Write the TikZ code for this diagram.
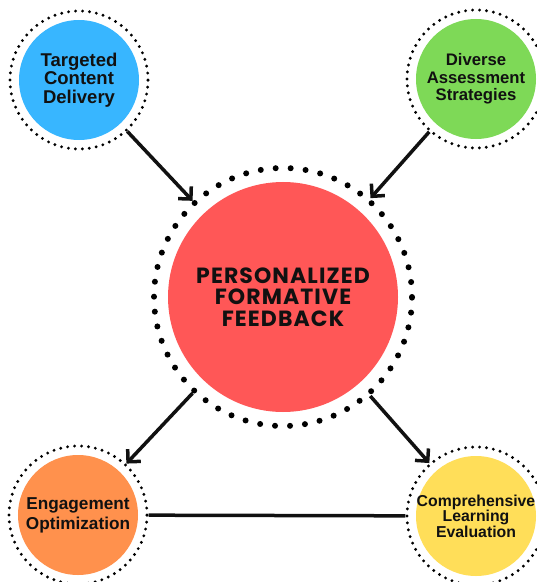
\documentclass[tikz,border=0pt]{standalone}
\usepackage{fontspec}
\setmainfont{Liberation Sans}
\newfontfamily\titlefont{Poppins}[LetterSpace=5]
\usetikzlibrary{arrows.meta}

\definecolor{tcdblue}{HTML}{38B6FF}
\definecolor{dasgreen}{HTML}{7ED957}
\definecolor{pffred}{HTML}{FF5757}
\definecolor{eoorange}{HTML}{FF914D}
\definecolor{cleyellow}{HTML}{FFDE59}
\definecolor{ink}{HTML}{111111}

\tikzset{
  topic/.style={circle,draw=black,line width=3.2bp,line cap=round,
    dash pattern=on 0bp off 6.99bp,minimum size=138bp,inner sep=0pt,
    align=center,text=ink,
    path picture={\fill[#1] (path picture bounding box.center) circle (60bp);}},
  hub/.style={circle,draw=black,line width=6bp,line cap=round,
    dash pattern=on 0bp off 15bp,minimum size=258bp,inner sep=0pt,
    align=center,text=ink,
    path picture={\fill[#1] (path picture bounding box.center) circle (115bp);}},
  arr/.style={-{Straight Barb[length=9bp,width=18bp]},line width=3.5bp,draw=ink},
  link/.style={line width=3.5bp,draw=ink}
}

\begin{document}
\begin{tikzpicture}[x=1bp,y=-1bp]
\useasboundingbox (0,0) rectangle (537,582);

\node[hub=pffred,font=\titlefont\bfseries\fontsize{22bp}{21.5bp}\selectfont] (pff) at (283,297)
  {PERSONALIZED\\FORMATIVE\\FEEDBACK};

\node[topic=tcdblue,font=\bfseries\fontsize{18.5bp}{18.5bp}\selectfont] (tcd) at (79,80)
  {Targeted\\Content\\Delivery};
\node[topic=dasgreen,font=\bfseries\fontsize{16.7bp}{17.5bp}\selectfont] (das) at (476,79)
  {Diverse\\Assessment\\Strategies};
\node[topic=eoorange,font=\bfseries\fontsize{17.2bp}{20bp}\selectfont] (eo) at (78,515)
  {Engagement\\Optimization};
\node[topic=cleyellow,font=\bfseries\fontsize{15.8bp}{15.5bp}\selectfont] (cle) at (476,516)
  {Comprehensive\\Learning\\Evaluation};

% inputs into the hub
\draw[arr] (tcd) -- (pff);
\draw[arr] (das) -- (pff);
% outputs from the hub
\draw[arr] (pff) -- (eo);
\draw[arr] (pff) -- (cle);
\draw[link] (eo) -- (cle);
\end{tikzpicture}
\end{document}
